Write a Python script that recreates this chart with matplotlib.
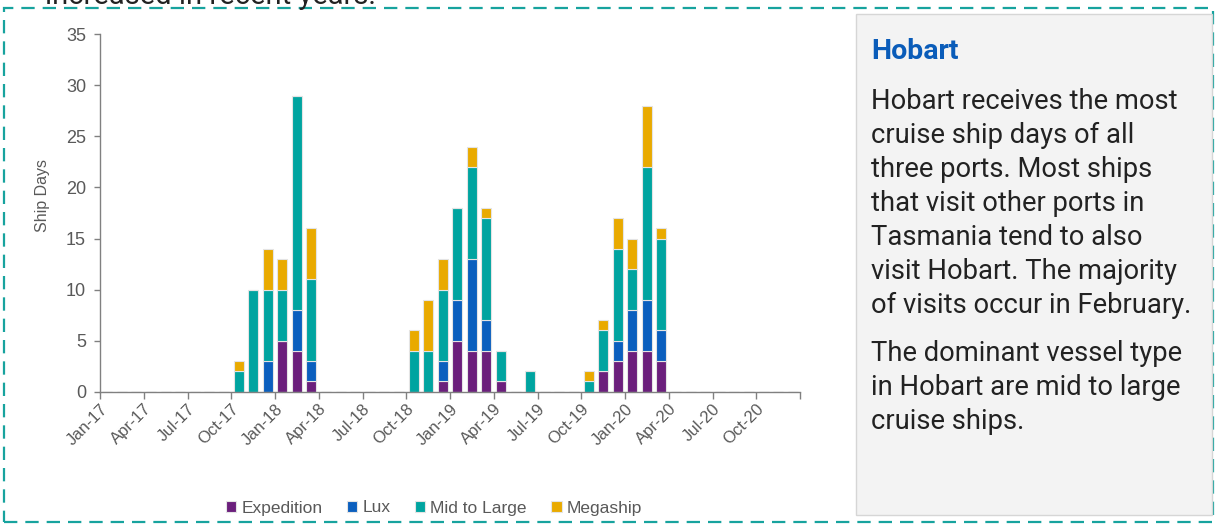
import numpy as np
import matplotlib
matplotlib.use("Agg")
import matplotlib.pyplot as plt
from matplotlib.patches import Rectangle

W, H = 1216, 525

# monthly ship days, Jan-17 .. Dec-20
months = [f"{m}-{y}" for y in ("17", "18", "19", "20")
          for m in ("Jan", "Feb", "Mar", "Apr", "May", "Jun",
                    "Jul", "Aug", "Sep", "Oct", "Nov", "Dec")]

expedition = [0, 0, 0, 0, 0, 0, 0, 0, 0, 0, 0, 0,
              5, 4, 1, 0, 0, 0, 0, 0, 0, 0, 0, 1,
              5, 4, 4, 1, 0, 0, 0, 0, 0, 0, 2, 3,
              4, 4, 3, 0, 0, 0, 0, 0, 0, 0, 0, 0]
lux = [0, 0, 0, 0, 0, 0, 0, 0, 0, 0, 0, 3,
       0, 4, 2, 0, 0, 0, 0, 0, 0, 0, 0, 2,
       4, 9, 3, 0, 0, 0, 0, 0, 0, 0, 0, 2,
       4, 5, 3, 0, 0, 0, 0, 0, 0, 0, 0, 0]
mid_large = [0, 0, 0, 0, 0, 0, 0, 0, 0, 2, 10, 7,
             5, 21, 8, 0, 0, 0, 0, 0, 0, 4, 4, 7,
             9, 9, 10, 3, 0, 2, 0, 0, 0, 1, 4, 9,
             4, 13, 9, 0, 0, 0, 0, 0, 0, 0, 0, 0]
megaship = [0, 0, 0, 0, 0, 0, 0, 0, 0, 1, 0, 4,
            3, 0, 5, 0, 0, 0, 0, 0, 0, 2, 5, 3,
            0, 2, 1, 0, 0, 0, 0, 0, 0, 1, 1, 3,
            3, 6, 1, 0, 0, 0, 0, 0, 0, 0, 0, 0]

series = ["Expedition", "Lux", "Mid to Large", "Megaship"]
colors = ["#6b1f7c", "#0b5fbe", "#00a4a0", "#e9aa00"]

tick_labels = months[::3]

panel_title = "Hobart"
para1 = ["Hobart receives the most", "cruise ship days of all",
         "three ports. Most ships", "that visit other ports in",
         "Tasmania tend to also", "visit Hobart. The majority",
         "of visits occur in February."]
para2 = ["The dominant vessel type", "in Hobart are mid to large", "cruise ships."]

grey = "#595959"
plt.rcParams["font.family"] = ["Liberation Sans", "DejaVu Sans"]

fig = plt.figure(figsize=(W / 100, H / 100), dpi=100)


def px(x, y):
    # pixel position (from top-left) to figure fraction
    return x / W, 1 - y / H


# dashed frame around the chart block
fig.patches.append(Rectangle(px(4, 522), 1209 / W, 514.5 / H, transform=fig.transFigure,
                             fill=False, edgecolor="#17a39e", linewidth=1.6,
                             linestyle=(0, (6.0, 3.6))))

# text cut off from the page above
fig.text(*px(45, 3.5), "increased in recent years.", fontsize=21, color="#222222",
         family="Roboto", va="baseline", ha="left")

# side panel
fig.patches.append(Rectangle(px(856, 515), 356 / W, 501 / H, transform=fig.transFigure,
                             facecolor="#f3f3f3", edgecolor="#d6d6d6", linewidth=1.0))
fig.text(*px(871, 59), panel_title, fontsize=20.5, color="#0a5cb9", weight="bold",
         family="Roboto", va="baseline")
line_gap = 34
for i, line in enumerate(para1):
    fig.text(*px(871, 109 + i * line_gap), line, fontsize=19.7, color="#222222",
             family="Roboto", va="baseline")
for i, line in enumerate(para2):
    fig.text(*px(871, 361 + i * line_gap), line, fontsize=19.7, color="#222222",
             family="Roboto", va="baseline")

# chart
ax = fig.add_axes([100 / W, (H - 391.7) / H, 700 / W, (391.7 - 34.3) / H])
x = np.arange(len(months)) + 0.5
bottom = np.zeros(len(months))
for name, vals, c in zip(series, [expedition, lux, mid_large, megaship], colors):
    vals = np.array(vals, dtype=float)
    ax.bar(x, vals, width=0.69, bottom=bottom, color=c, edgecolor="#e4e4e4",
           linewidth=0.8, label=name)
    bottom += vals

ax.set_xlim(0, len(months))
ax.set_ylim(0, 35)
ax.set_yticks(range(0, 36, 5))
ax.set_xticks(range(0, len(months) + 1, 3))
ax.set_xticklabels(tick_labels + [""], rotation=45, ha="right", rotation_mode="anchor")
ax.tick_params(axis="x", length=5, width=1, color="#808080", labelsize=12,
               labelcolor=grey, pad=2)
ax.tick_params(axis="y", length=4, width=1, color="#808080", labelsize=13,
               labelcolor=grey, pad=6)
for side in ("top", "right"):
    ax.spines[side].set_visible(False)
for side in ("left", "bottom"):
    ax.spines[side].set_color("#808080")
    ax.spines[side].set_linewidth(1)
ax.set_ylabel("Ship Days", fontsize=11.5, color=grey)
ax.yaxis.set_label_coords(-0.072, 0.55)

fig.legend(loc="center", bbox_to_anchor=px(434, 508), ncol=4, frameon=False,
           fontsize=12.5, labelcolor=grey, handlelength=0.6, handleheight=0.6,
           handletextpad=0.3, columnspacing=1.4)

fig.savefig("out.png", dpi=100)
